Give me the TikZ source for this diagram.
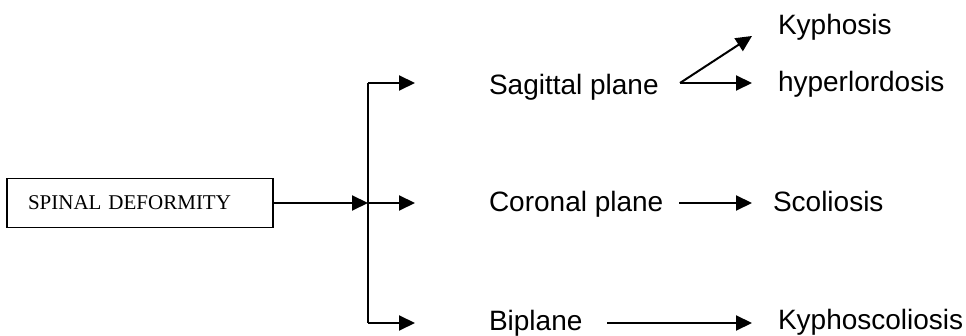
\documentclass[tikz,border=0pt]{standalone}
\usepackage{fontspec}
\setmainfont{Liberation Serif}
\newfontfamily\labelfont{Liberation Sans}
\usetikzlibrary{arrows.meta}
\begin{document}
\begin{tikzpicture}[x=1pt,y=-1pt,
  line width=2pt,
  tip/.style={-{Triangle[length=16pt,width=15pt]}},
  term/.style={anchor=base west,inner sep=0pt,font=\labelfont\fontsize{28}{32}\selectfont},
  rootbox/.style={draw,line width=1.8pt,minimum height=49pt,text width=224pt,
    inner xsep=21pt,align=left,font=\fontsize{21}{24}\selectfont}]
\useasboundingbox (0,0) rectangle (966,336);

% root box and the split
\node[rootbox] (root) at (140,203) {SPINAL DEFORMITY};
\coordinate (split) at (368,203);
\coordinate (top) at (368,83);
\coordinate (bot) at (368,323);

% planes
\node[term] (sag) at (488,95) {Sagittal plane};
\node[term] (cor) at (488,212) {Coronal plane};
\node[term] (bip) at (488,331) {Biplane};

% deformities
\node[term] (kyph) at (777,35) {Kyphosis};
\node[term] (hyper) at (777,92) {hyperlordosis};
\node[term] (scol) at (772,212) {Scoliosis};
\node[term] (kysc) at (777,330) {Kyphoscoliosis};

% arrow ends
\coordinate (tS) at (415,83);
\coordinate (tC) at (415,203);
\coordinate (tB) at (415,323);
\coordinate (sagR) at (680,83);
\coordinate (kyphT) at (752,36);
\coordinate (hyperT) at (752,83);
\coordinate (corR) at (679,203);
\coordinate (scolT) at (752,203);
\coordinate (bipR) at (607,323);
\coordinate (kyscT) at (752,323);

\draw[tip] (root.east |- split) -- (split);
\draw (top) -- (bot);
\draw[tip] (top) -- (tS);
\draw[tip] (split) -- (tC);
\draw[tip] (bot) -- (tB);

\draw[tip] (sagR) -- (kyphT);
\draw[tip] (sagR) -- (hyperT);
\draw[tip] (corR) -- (scolT);
\draw[tip] (bipR) -- (kyscT);
\end{tikzpicture}
\end{document}
